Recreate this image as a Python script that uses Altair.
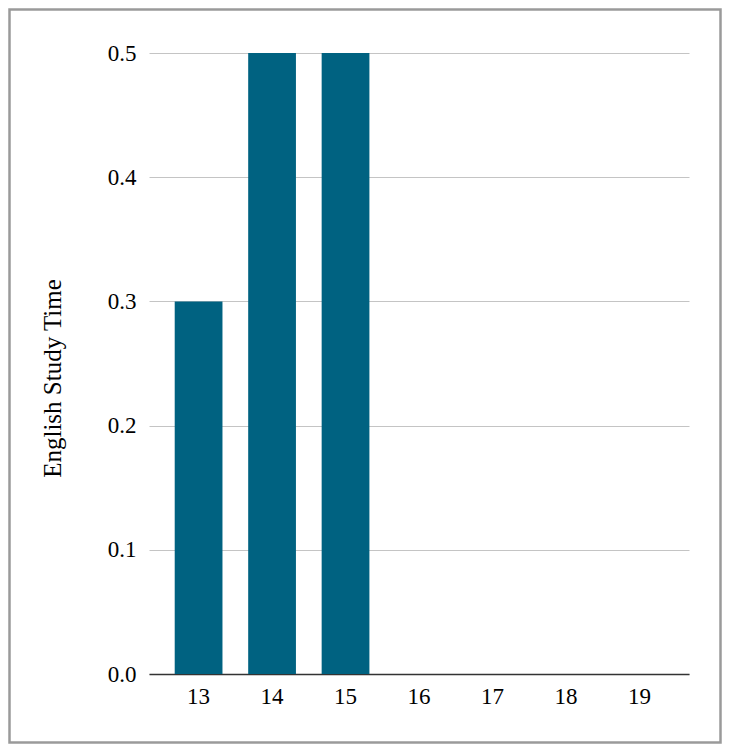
import altair as alt
import pandas as pd

ages = ["13", "14", "15", "16", "17", "18", "19"]
study_time = [0.3, 0.5, 0.5, 0, 0, 0, 0]
y_ticks = [0.0, 0.1, 0.2, 0.3, 0.4, 0.5]

df = pd.DataFrame({"age": ages, "time": study_time})

FONT = "Times New Roman, Liberation Serif, serif"

bars = alt.Chart(df).mark_bar(color="#006281").encode(
    x=alt.X("age:N", sort=ages, title=None,
            scale=alt.Scale(paddingInner=0.35, paddingOuter=0.35),
            axis=alt.Axis(labelAngle=0, ticks=False, domain=True, domainColor="#333333",
                          domainWidth=1.5, grid=False, labelFont=FONT, labelFontSize=23,
                          labelColor="#000000", labelPadding=11)),
    y=alt.Y("time:Q", title="English Study Time",
            scale=alt.Scale(domain=[0, 0.5], nice=False),
            axis=alt.Axis(values=y_ticks, format=".1f", ticks=False, domain=False,
                          gridColor="#c4c4c4", gridWidth=1, labelFont=FONT, labelFontSize=23,
                          labelColor="#000000", labelPadding=13,
                          titleFont=FONT, titleFontSize=25, titleFontWeight="normal",
                          titleColor="#000000", titleX=-97, titleY=325,
                          titleBaseline="middle", titleAlign="center", titleAngle=-90)),
)

border = alt.Chart(alt.Data(values=[{}])).mark_rect(
    filled=False, stroke="#9a9a9a", strokeWidth=2.5
).encode(
    x=alt.value(-139.5), x2=alt.value(571.5), y=alt.value(-43.5), y2=alt.value(689.5)
)

chart = alt.layer(bars, border).properties(
    width=540, height=621,
    autosize=alt.AutoSizeParams(type="none"),
    padding={"left": 141, "top": 45, "right": 33, "bottom": 70},
    background="white",
).configure_view(stroke=None)

chart.save("out.html", embed_options={"renderer": "svg", "actions": False})
